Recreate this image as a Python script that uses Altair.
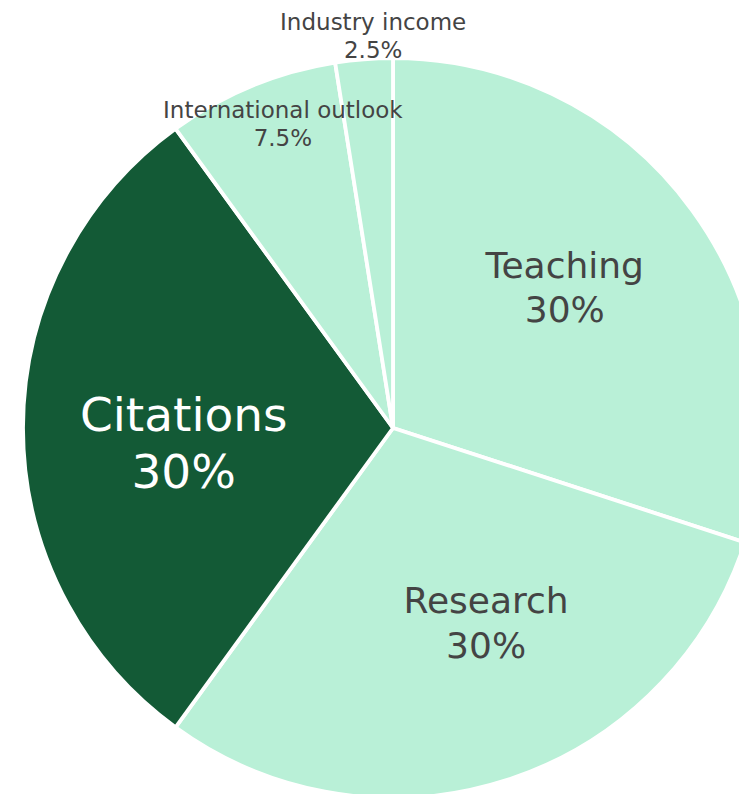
import altair as alt
import pandas as pd

categories = ["Teaching", "Research", "Citations", "International outlook", "Industry income"]
shares = [30, 30, 30, 7.5, 2.5]
slice_order = [0, 1, 2, 3, 4]

LIGHT = "#b9f0d7"
DARK = "#135a36"
slice_colors = [LIGHT, LIGHT, DARK, LIGHT, LIGHT]

# label styling: font size, colour, radius, angular nudge (degrees), line height
label_style = {
    "Teaching": dict(size=36, color="#444444", r=221, dtheta=-3, lh=44),
    "Research": dict(size=36, color="#444444", r=217, dtheta=-7.4, lh=45),
    "Citations": dict(size=47, color="#ffffff", r=210, dtheta=-4.7, lh=57),
    "International outlook": dict(size=23, color="#444444", r=322, dtheta=2.5, lh=28),
    "Industry income": dict(size=23, color="#444444", r=392, dtheta=1.6, lh=28),
}

df = pd.DataFrame({"category": categories, "share": shares, "order": slice_order})

theta_scale = alt.Scale(domain=[0, 100], range=[0, 6.283185307179586])

arcs = alt.Chart().mark_arc(stroke="white", strokeWidth=3.8).encode(
    theta=alt.Theta("start:Q", scale=theta_scale),
    theta2="cum:Q",
    radius=alt.value(370),
    color=alt.Color("category:N", scale=alt.Scale(domain=categories, range=slice_colors), legend=None),
)

layers = [arcs]
for cat in categories:
    st = label_style[cat]
    layers.append(
        alt.Chart()
        .transform_filter(alt.datum.category == cat)
        .mark_text(
            font="DejaVu Sans",
            fontSize=st["size"],
            color=st["color"],
            align="center",
            baseline="middle",
            lineBreak="\n",
            lineHeight=st["lh"],
            dy=-st["lh"] / 2,
            thetaOffset=st["dtheta"] * 3.141592653589793 / 180,
        )
        .encode(
            theta=alt.Theta("mid:Q", scale=theta_scale),
            radius=alt.value(st["r"]),
            text="label:N",
        )
    )

chart = (
    alt.layer(*layers, data=df)
    .transform_window(cum="sum(share)", sort=[alt.SortField("order")], frame=[None, 0])
    .transform_calculate(
        start="datum.cum - datum.share",
        mid="datum.cum - datum.share / 2",
        label="datum.category + '\\n' + format(datum.share, '.1~f') + '%'",
    )
    .properties(
        width=692,
        height=732,
        autosize="none",
        padding={"left": 39, "top": 54, "right": 0, "bottom": 0},
        background="white",
    )
    .configure_view(stroke=None)
)

chart.save("out.html", embed_options={"renderer": "svg", "actions": False})
